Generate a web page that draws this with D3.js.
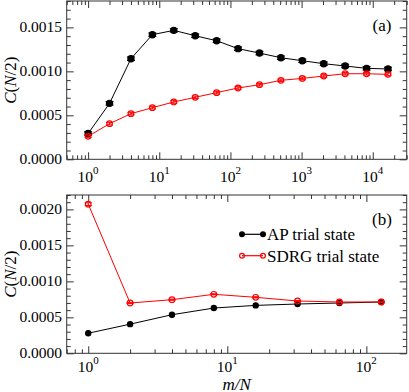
<!DOCTYPE html>
<html><head><meta charset="utf-8">
<script src="https://cdn.jsdelivr.net/npm/d3@7"></script>
<style>body{margin:0;background:#fff}svg{display:block}</style>
</head><body>
<script>
// ---- data ----
const xTop = [1,2,4,8,16,32,64,128,256,512,1024,2048,4096,8192,16384];
const apTop = [0.000293,0.000636,0.001144,0.001417,0.001466,0.001405,0.001348,0.001258,0.001208,0.001155,0.001121,0.001087,0.001061,0.001034,0.001027];
const apTopErr = [0.00002,0.00002,0.00002,0.00002,0.00002,0.00002,0.00002,0.00002,0.00002,0.00002,0.00002,0.00002,0.00002,0.00002,0.00002];
const sdrgTop = [0.000261,0.000405,0.000519,0.000587,0.000652,0.000705,0.000758,0.000811,0.000848,0.000898,0.00092,0.000947,0.000973,0.000973,0.000966];
const sdrgTopErr = [0.000015,0.000015,0.000015,0.000015,0.000015,0.000015,0.000015,0.000015,0.000015,0.000015,0.000015,0.000015,0.000015,0.000015,0.000015];
const xBot = [1,2,4,8,16,32,64,128];
const apBot = [0.000279,0.000405,0.000536,0.000629,0.000666,0.000685,0.000699,0.000713];
const sdrgBot = [0.002073,0.000699,0.000745,0.00082,0.000778,0.000727,0.000713,0.000713];
const sdrgBotErr = [0.00002,0.000008,0.000008,0.000008,0.000008,0.000008,0.000008,0.000008];
const yTicksTop = [0,0.0005,0.0010,0.0015];
const yTicksBot = [0,0.0005,0.0010,0.0015,0.0020];
const xExpTop = [0,1,2,3,4];
const xExpBot = [0,1,2];
const seriesNames = ["AP trial state","SDRG trial state"];
const panelLabels = ["(a)","(b)"];

const W=409,H=392;
const FONT="'Liberation Serif', 'Times New Roman', Times, serif";
const svg=d3.select("body").append("svg").attr("width",W).attr("height",H).attr("font-family",FONT);
const L=66.7,R=406.7;

function panel(opt){
  const x=d3.scaleLog().domain(opt.xdom).range([L,R]);
  const y=d3.scaleLinear().domain(opt.ydom).range([opt.bottom,opt.top]);
  const g=svg.append("g");
  const majX=[],minX=[];
  const lo=Math.floor(Math.log10(opt.xdom[0])), hi=Math.ceil(Math.log10(opt.xdom[1]));
  for(let e=lo;e<=hi;e++){for(let k=1;k<10;k++){const v=k*Math.pow(10,e);if(v<opt.xdom[0]||v>opt.xdom[1])continue;(k===1?majX:minX).push(v);}}
  const minY=d3.range(0,opt.ydom[1]+1e-9,0.0001).filter(v=>!opt.yticks.some(t=>Math.abs(t-v)<1e-9));
  const tk=(axis,vals,len)=>axis.tickValues(vals).tickSize(len).tickFormat("");
  const add=(a,tr)=>{const s=g.append("g").attr("transform",tr).call(a);s.select(".domain").remove();s.selectAll("line").attr("stroke","#333");};
  add(tk(d3.axisBottom(x),majX,-7),`translate(0,${opt.bottom})`);
  add(tk(d3.axisBottom(x),minX,-4),`translate(0,${opt.bottom})`);
  add(tk(d3.axisTop(x),majX,-7),`translate(0,${opt.top})`);
  add(tk(d3.axisTop(x),minX,-4),`translate(0,${opt.top})`);
  add(tk(d3.axisLeft(y),opt.yticks,-7),`translate(${L},0)`);
  add(tk(d3.axisLeft(y),minY,-4),`translate(${L},0)`);
  add(tk(d3.axisRight(y),opt.yticks,-7),`translate(${R},0)`);
  add(tk(d3.axisRight(y),minY,-4),`translate(${R},0)`);
  g.append("rect").attr("x",L).attr("y",opt.top).attr("width",R-L).attr("height",opt.bottom-opt.top)
    .attr("fill","none").attr("stroke","#333").attr("stroke-width",1);
  g.selectAll(".yl").data(opt.yticks).enter().append("text")
    .attr("x",62).attr("y",d=>y(d)+5).attr("text-anchor","end").attr("font-size",15.5).attr("font-family",FONT).text(d=>d.toFixed(4));
  const xl=g.selectAll(".xl").data(opt.xexp).enter().append("text")
    .attr("x",d=>x(Math.pow(10,d))).attr("y",opt.bottom+opt.xlabOff).attr("text-anchor","middle").attr("font-size",15.5).attr("font-family",FONT);
  xl.append("tspan").text("10");
  xl.append("tspan").attr("dy",-8).attr("font-size",11).text(d=>d);
  const yt=g.append("text").attr("transform",`translate(16,${(opt.top+opt.bottom)/2}) rotate(-90)`)
    .attr("text-anchor","middle").attr("font-size",17).attr("font-family",FONT);
  yt.append("tspan").attr("font-style","italic").text("C");
  yt.append("tspan").text("(");
  yt.append("tspan").attr("font-style","italic").text("N");
  yt.append("tspan").text("/2)");
  g.append("text").attr("x",382).attr("y",opt.top+opt.plab).attr("text-anchor","middle").attr("font-size",17).attr("font-family",FONT).text(opt.label);
  return {x,y,g};
}

function series(p,xs,ys,errs,color,filled,r,cap){
  const {x,y,g}=p;
  g.append("path").datum(xs.map((d,i)=>[d,ys[i]])).attr("fill","none").attr("stroke",color).attr("stroke-width",1)
    .attr("d",d3.line().x(d=>x(d[0])).y(d=>y(d[1])));
  if(errs){
    const eg=g.append("g").attr("stroke",color).attr("stroke-width",1);
    xs.forEach((d,i)=>{
      const cx=x(d),y1=y(ys[i]-errs[i]),y2=y(ys[i]+errs[i]);
      eg.append("line").attr("x1",cx).attr("x2",cx).attr("y1",y1).attr("y2",y2);
      eg.append("line").attr("x1",cx-cap).attr("x2",cx+cap).attr("y1",y1).attr("y2",y1);
      eg.append("line").attr("x1",cx-cap).attr("x2",cx+cap).attr("y1",y2).attr("y2",y2);
    });
  }
  g.selectAll(null).data(xs.map((d,i)=>[d,ys[i]])).enter().append("circle")
    .attr("cx",d=>x(d[0])).attr("cy",d=>y(d[1])).attr("r",r)
    .attr("fill",filled?color:"none").attr("stroke",color).attr("stroke-width",1.2);
}

const pa=panel({xdom:[0.5,30000],ydom:[0,0.0018],top:1,bottom:159.3,yticks:yTicksTop,xexp:xExpTop,label:panelLabels[0],plab:30,xlabOff:22.5});
series(pa,xTop,apTop,apTopErr,"#000",true,3.1,4);
series(pa,xTop,sdrgTop,sdrgTopErr,"#ff0000",false,2.8,3.5);

const pb=panel({xdom:[0.7,195],ydom:[0,0.0022],top:195,bottom:353.3,yticks:yTicksBot,xexp:xExpBot,label:panelLabels[1],plab:30,xlabOff:18.5});
series(pb,xBot,apBot,null,"#000",true,2.6,0);
series(pb,xBot,sdrgBot,sdrgBotErr,"#ff0000",false,2.8,3.5);

svg.append("text").attr("x",(L+R)/2).attr("y",389.5).attr("text-anchor","middle").attr("font-size",17).attr("font-style","italic").attr("font-family",FONT).text("m/N");

const leg=svg.append("g");
[["#000",true],["#ff0000",false]].forEach((s,i)=>{
  const ly=234.3+i*21.4;
  leg.append("line").attr("x1",242).attr("x2",263).attr("y1",ly).attr("y2",ly).attr("stroke",s[0]).attr("stroke-width",1.2);
  [242,263].forEach(cx=>leg.append("circle").attr("cx",cx).attr("cy",ly).attr("r",2.4).attr("fill",s[1]?s[0]:"none").attr("stroke",s[0]).attr("stroke-width",1.2));
  leg.append("text").attr("x",267).attr("y",ly+6).attr("font-size",17).attr("font-family",FONT).text(seriesNames[i]);
});
</script>
</body></html>
